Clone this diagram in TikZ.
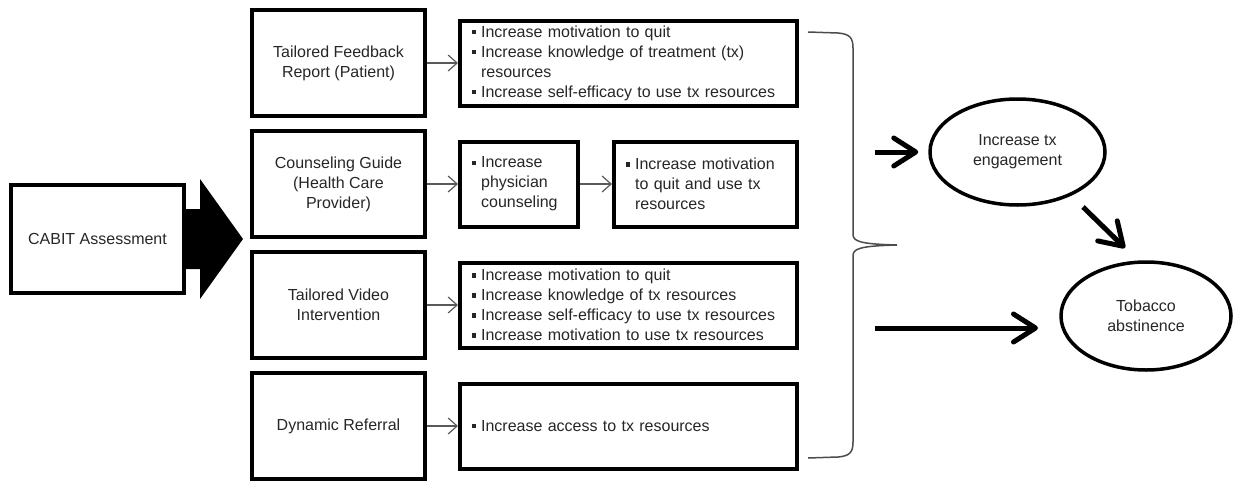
\documentclass[tikz,border=0pt]{standalone}
\usepackage{fontspec}
\setmainfont{Liberation Sans}
\usetikzlibrary{positioning,arrows.meta,shapes.geometric}
\newcommand\bul{\rule[0.35ex]{0.27em}{0.27em}\hspace{0.3em}}
\newcommand\ind{\hphantom{\bul}}

\begin{document}
\begin{tikzpicture}[x=1pt, y=-1pt, font=\fontsize{16}{20}\selectfont, text=black!85,
  tool/.style={draw=black, line width=4pt, minimum width=173pt, minimum height=106pt, align=center, inner sep=2pt},
  aim/.style={draw=black, line width=4pt, minimum height=85pt, inner xsep=12pt, inner ysep=0pt, align=left},
  goal/.style={draw=black, ellipse, line width=3.5pt, inner sep=0pt, align=center},
  link/.style={draw=black!65, line width=1.2pt, -{Straight Barb[length=9pt,width=16pt]}},
  push/.style={draw=black, line width=5pt, -{Straight Barb[length=22pt,width=28pt,round]}}]
  \useasboundingbox (0,0) rectangle (1234,482);
  % CABIT
  \node[tool, minimum height=108pt] (cabit) at (97.5,239) {CABIT Assessment};
  \fill (cabit.east) ++(0,-30) -- ++(14,0) -- ++(0,-30) -- ++(43,60) -- ++(-43,60)
    -- ++(0,-30) -- ++(-14,0) -- cycle;
  % Tools
  \node[tool] (fb) at (338.5,63) {Tailored Feedback\\Report (Patient)};
  \node[tool] (cg) at (338.5,184) {Counseling Guide\\(Health Care\\Provider)};
  \node[tool] (tv) at (338.5,305) {Tailored Video\\Intervention};
  \node[tool] (dr) at (338.5,426) {Dynamic Referral};
  % Aims
  \node[aim, text width=313pt] (o1) at (628.5,63) {\bul Increase motivation to quit\\
    \bul Increase knowledge of treatment (tx)\\ \ind resources\\
    \bul Increase self-efficacy to use tx resources};
  \node[aim, text width=94pt] (o2a) at (519,184) {\bul Increase\\ \ind physician\\ \ind counseling};
  \node[aim, text width=159pt] (o2b) at (705.5,184) {\bul Increase motivation\\
    \ind to quit and use tx\\ \ind resources};
  \node[aim, text width=313pt] (o3) at (628.5,305) {\bul Increase motivation to quit\\
    \bul Increase knowledge of tx resources\\
    \bul Increase self-efficacy to use tx resources\\
    \bul Increase motivation to use tx resources};
  \node[aim, text width=313pt] (o4) at (628.5,426) {\bul Increase access to tx resources};
  \foreach \a/\b in {fb/o1, cg/o2a, o2a/o2b, tv/o3, dr/o4}
    \draw[link] (\a) -- (\b);
  % Brace
  \draw[black!70, line width=1.5pt] (808,32) -- (838,33) .. controls (850,34) and (853,38) .. (853,48)
    -- (853,234) .. controls (853,241) and (858,244) .. (897,245)
    .. controls (858,246) and (853,249) .. (853,256) -- (853,442)
    .. controls (853,452) and (850,456) .. (838,457) -- (808,458);
  % Outcomes
  \node[goal, minimum width=175pt, minimum height=106pt] (eng) at (1017.5,152) {Increase tx\\engagement};
  \node[goal, minimum width=170pt, minimum height=108pt] (abst) at (1146,316) {Tobacco\\abstinence};
  \coordinate (s1) at (875,152);
  \coordinate (s2) at (875,328);
  \coordinate (d1) at (1083,207);
  \coordinate (d2) at (1125,248);
  \draw[push, shorten >=10pt] (s1) -- (eng.west);
  \draw[push] (d1) -- (d2);
  \draw[push] (s2) -- (1038,328);
\end{tikzpicture}
\end{document}
